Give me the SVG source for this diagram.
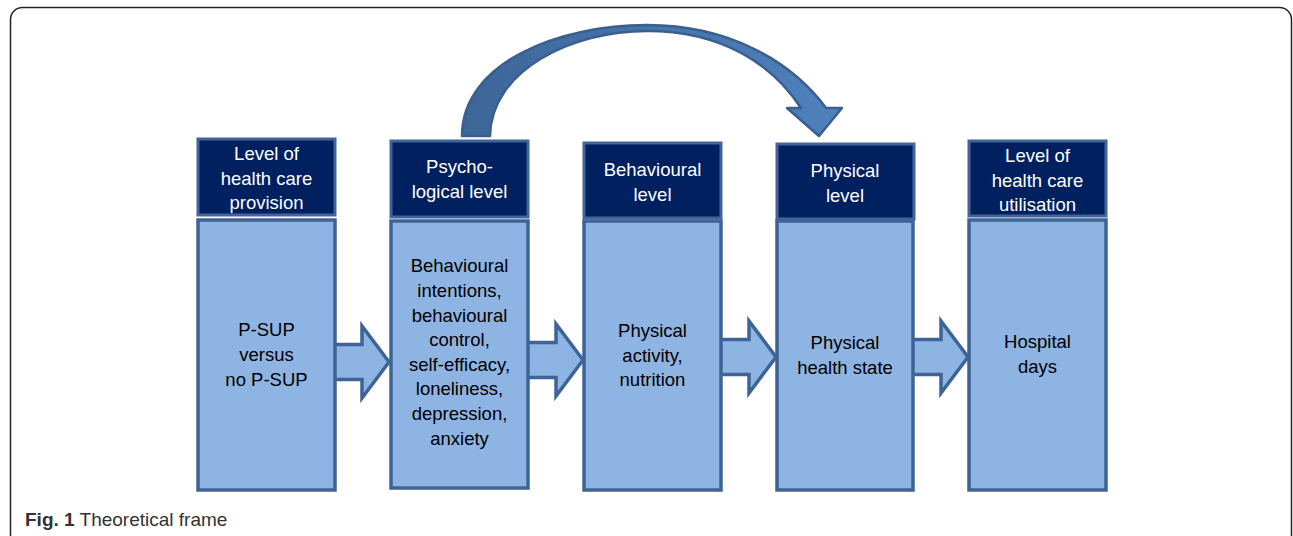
<svg xmlns="http://www.w3.org/2000/svg" width="1293" height="536" viewBox="0 0 1293 536">
<defs>
<style>
.hdr{fill:#002060;stroke:#41659a;stroke-width:3}
.body{fill:#8eb4e3;stroke:#3e6397;stroke-width:3.5}
.blk{fill:#8eb4e3;stroke:#3e6397;stroke-width:3.5;stroke-linejoin:miter}
.ht{font-family:"Liberation Sans",Arial,sans-serif;font-size:18.5px;fill:#ffffff;text-anchor:middle}
.bt{font-family:"Liberation Sans",Arial,sans-serif;font-size:18.5px;fill:#000000;text-anchor:middle}
.cap{font-family:"Liberation Sans",Arial,sans-serif;font-size:19px;fill:#333333}
</style>
<linearGradient id="cg" x1="0" y1="0" x2="1" y2="0">
<stop offset="0" stop-color="#3d6699"/>
<stop offset="1" stop-color="#4f81bd"/>
</linearGradient>
</defs>
<rect x="10.5" y="7.5" width="1281" height="540" rx="12" ry="12" fill="#ffffff" stroke="#222222" stroke-width="1.5"/>

<g id="connectors">
<path d="M462,136 C462,62 560,25 647,25 C730,25 792,62 826,108 L842,108 L819,136 L787,108 L801,108 C772,64 722,31 647,31 C572,31 491,70 490,136 Z" fill="url(#cg)" stroke="#3b5f8d" stroke-width="2.5" stroke-linejoin="round"/>
<path class="blk" d="M336,344.5 L362,344.5 L362,326 L389,362 L362,398 L362,379.5 L336,379.5"/>
<path class="blk" d="M529,342.5 L556,342.5 L556,324 L583,360 L556,396 L556,377.5 L529,377.5"/>
<path class="blk" d="M721,339.5 L749,339.5 L749,321 L776,357 L749,393 L749,374.5 L721,374.5"/>
<path class="blk" d="M913,339.5 L941,339.5 L941,321 L968,357 L941,393 L941,374.5 L913,374.5"/>
</g>

<g id="node1">
<rect class="hdr" x="198" y="139" width="137" height="76"/>
<rect class="body" x="198" y="220" width="137" height="270"/>
<text class="ht" x="266.5" y="160">Level of</text>
<text class="ht" x="266.5" y="185">health care</text>
<text class="ht" x="266.5" y="209">provision</text>
<text class="bt" x="266.5" y="336">P-SUP</text>
<text class="bt" x="266.5" y="361">versus</text>
<text class="bt" x="266.5" y="386">no P-SUP</text>
</g>

<g id="node2">
<rect class="hdr" x="391" y="141" width="137" height="76"/>
<rect class="body" x="391" y="221" width="137" height="267"/>
<text class="ht" x="459.5" y="173">Psycho-</text>
<text class="ht" x="459.5" y="198">logical level</text>
<text class="bt" x="459.5" y="272">Behavioural</text>
<text class="bt" x="459.5" y="297">intentions,</text>
<text class="bt" x="459.5" y="322">behavioural</text>
<text class="bt" x="459.5" y="346">control,</text>
<text class="bt" x="459.5" y="371">self-efficacy,</text>
<text class="bt" x="459.5" y="395">loneliness,</text>
<text class="bt" x="459.5" y="420">depression,</text>
<text class="bt" x="459.5" y="445">anxiety</text>
</g>

<g id="node3">
<rect class="hdr" x="584" y="143" width="137" height="75"/>
<rect class="body" x="584" y="221" width="137" height="269"/>
<text class="ht" x="652.5" y="176">Behavioural</text>
<text class="ht" x="652.5" y="201">level</text>
<text class="bt" x="652.5" y="337">Physical</text>
<text class="bt" x="652.5" y="362">activity,</text>
<text class="bt" x="652.5" y="386">nutrition</text>
</g>

<g id="node4">
<rect class="hdr" x="777" y="144" width="137" height="75"/>
<rect class="body" x="777" y="221" width="136" height="269"/>
<text class="ht" x="845" y="177">Physical</text>
<text class="ht" x="845" y="202">level</text>
<text class="bt" x="845" y="349">Physical</text>
<text class="bt" x="845" y="374">health state</text>
</g>

<g id="node5">
<rect class="hdr" x="969" y="141" width="137" height="75"/>
<rect class="body" x="969" y="220" width="137" height="270"/>
<text class="ht" x="1037.5" y="162">Level of</text>
<text class="ht" x="1037.5" y="187">health care</text>
<text class="ht" x="1037.5" y="211">utilisation</text>
<text class="bt" x="1037.5" y="348">Hospital</text>
<text class="bt" x="1037.5" y="373">days</text>
</g>

<text class="cap" x="25" y="526"><tspan font-weight="bold">Fig. 1</tspan> Theoretical frame</text>
</svg>
